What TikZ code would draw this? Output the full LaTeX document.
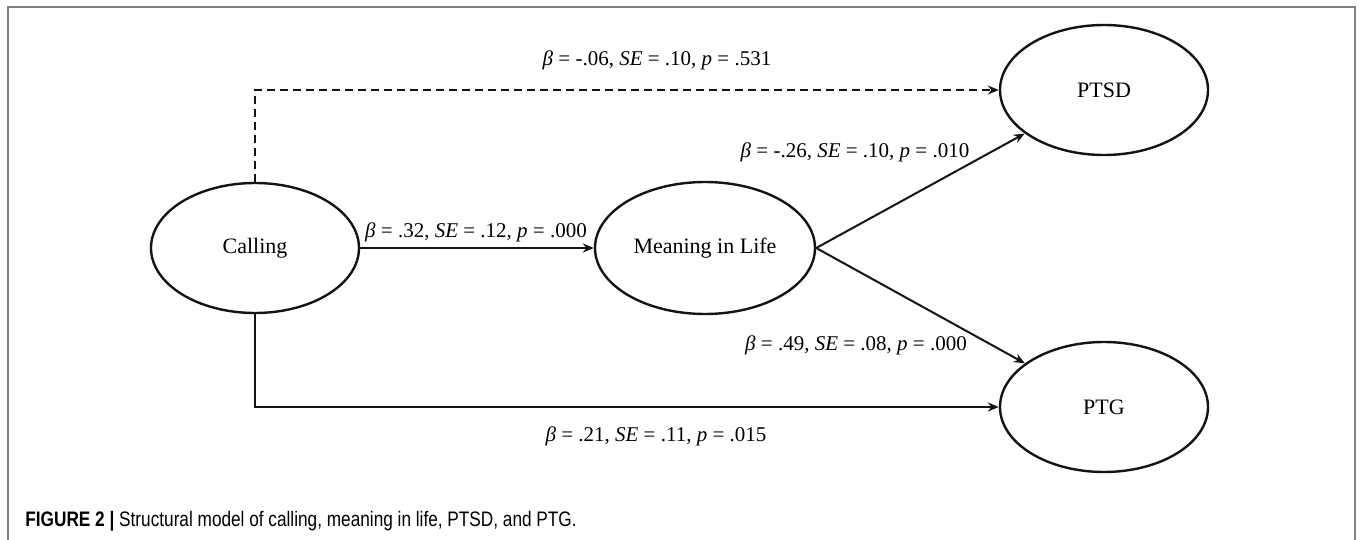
\documentclass[tikz,border=0pt]{standalone}
\usepackage{fontspec}
\setmainfont{Liberation Serif}
\newfontfamily\capfont[FakeStretch=0.82]{Liberation Sans}
\usepackage{tikz}
\usetikzlibrary{positioning,arrows.meta,shapes.geometric}
\definecolor{smGray}{RGB}{128,128,128}
\definecolor{smInk}{RGB}{20,20,20}

\begin{document}
\begin{tikzpicture}[x=0.5pt,y=-0.5pt,
  construct/.style={ellipse, draw=smInk, line width=1.2pt, minimum width=104pt, minimum height=65pt, inner sep=0pt, font=\fontsize{11}{13}\selectfont},
  effect/.style={draw=smInk, line width=1pt, -{Stealth[length=5.5pt,width=4.5pt]}},
  coef/.style={font=\fontsize{10.5}{12}\selectfont, inner sep=1pt}]
  \useasboundingbox (0,0) rectangle (1360,540);

  % Frame (open at the bottom)
  \draw[smGray, line width=1pt] (8,560) -- (8,7) -- (1355,7) -- (1355,560);

  % Constructs
  \node[construct] (calling) at (255,248) {Calling};
  \node[construct, minimum width=110pt, minimum height=66pt] (meaning) at (705,248) {Meaning in Life};
  \node[construct] (ptsd) at (1104,90) {PTSD};
  \node[construct] (ptg) at (1104,407) {PTG};

  % Paths
  \draw[effect, dash pattern=on 4pt off 2.5pt] (calling.north) |- (ptsd.west);
  \draw[effect] (calling.east) -- (meaning.west);
  \draw[effect] (calling.south) |- (ptg.west);
  \draw[effect] (meaning.east) -- (ptsd);
  \draw[effect] (meaning.east) -- (ptg);

  % Coefficients
  \node[coef] (c2ptsd) at (657,60) {\textit{β} = -.06, \textit{SE} = .10, \textit{p} = .531};
  \node[coef] (m2ptsd) at (855,152) {\textit{β} = -.26, \textit{SE} = .10, \textit{p} = .010};
  \node[coef] (c2m) at (476,232) {\textit{β} = .32, \textit{SE} = .12, \textit{p} = .000};
  \node[coef] (m2ptg) at (856,345) {\textit{β} = .49, \textit{SE} = .08, \textit{p} = .000};
  \node[coef] (c2ptg) at (656,436) {\textit{β} = .21, \textit{SE} = .11, \textit{p} = .015};

  % Caption
  \node[anchor=west, inner sep=0pt, font=\capfont\fontsize{10.5}{12}\selectfont] (caption) at (25,521)
    {\textbf{FIGURE 2 |} Structural model of calling, meaning in life, PTSD, and PTG.};
\end{tikzpicture}
\end{document}
